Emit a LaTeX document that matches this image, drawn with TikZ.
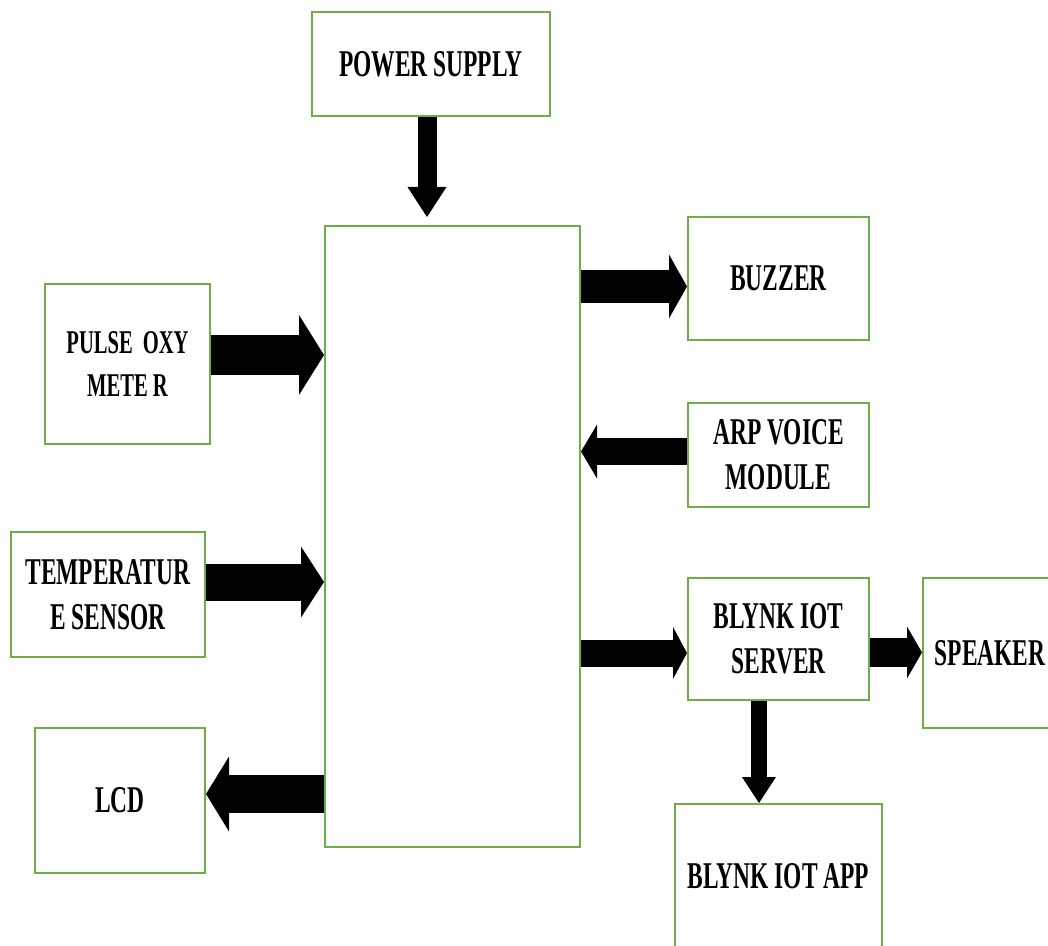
\documentclass[tikz,border=0pt]{standalone}
\usepackage{fontspec}
\setmainfont{Liberation Serif}[FakeStretch=0.62]
\usetikzlibrary{arrows.meta}
\definecolor{boxgreen}{HTML}{70AD47}
\tikzset{
  box/.style={draw=boxgreen, line width=1pt, fill=white, align=center, inner sep=2pt,
    font=\fontsize{18.9}{22.5}\selectfont\bfseries},
  blk/.style n args={3}{draw=black, line width=#1*0.5pt,
    -{Triangle[length=#3*0.5pt, width=#2*0.5pt, line width=0pt]}}
}
\begin{document}
\begin{tikzpicture}[x=0.5pt, y=-0.5pt]
\useasboundingbox (0,0) rectangle (1048,946);
% boxes
\node[box, minimum width=119pt, minimum height=52pt] (ps) at (431,64) {POWER SUPPLY};
\node[box, minimum width=127.5pt, minimum height=310.5pt] (mcu) at (452.5,536.5) {};
\node[box, minimum width=82.5pt, minimum height=80pt, font=\fontsize{16.6}{21.5}\selectfont\bfseries] (pulse) at (127.5,364) {PULSE\hspace{5pt}OXY\\METE R};
\node[box, minimum width=97pt, minimum height=62.5pt] (temp) at (108,594.5) {TEMPERATUR\\E SENSOR};
\node[box, minimum width=85pt, minimum height=72.5pt] (lcd) at (120,800.5) {LCD};
\node[box, minimum width=90.5pt, minimum height=61.5pt] (buz) at (778.5,278.5) {BUZZER};
\node[box, minimum width=90.5pt, minimum height=52pt] (arp) at (778.5,455) {ARP VOICE\\MODULE};
\node[box, minimum width=90.5pt, minimum height=61pt] (srv) at (778.5,639) {BLYNK IOT\\SERVER};
\node[box, minimum width=67pt, minimum height=75pt] (spk) at (990,653) {SPEAKER};
\node[box, minimum width=103.5pt, minimum height=72pt] (app) at (778.5,876) {BLYNK IOT APP};
% connector guide coordinates
\coordinate (a1) at (427,0);
\coordinate (a2) at (0,355);
\coordinate (a3) at (0,582);
\coordinate (a4) at (0,794);
\coordinate (a5) at (0,286.5);
\coordinate (a6) at (0,451.5);
\coordinate (a7) at (0,653);
\coordinate (a8) at (0,652.5);
\coordinate (a9) at (759,0);
% block arrows
\draw[blk={19}{39}{30}, shorten >=4pt] (ps.south -| a1) -- (mcu.north -| a1);
\draw[blk={40}{80}{25}] (pulse.east |- a2) -- (mcu.west |- a2);
\draw[blk={37}{71}{23}] (temp.east |- a3) -- (mcu.west |- a3);
\draw[blk={38}{75}{23}] (mcu.west |- a4) -- (lcd.east |- a4);
\draw[blk={33}{64}{18}] (mcu.east |- a5) -- (buz.west |- a5);
\draw[blk={27}{54}{16}] (arp.west |- a6) -- (mcu.east |- a6);
\draw[blk={27}{52}{14}] (mcu.east |- a7) -- (srv.west |- a7);
\draw[blk={29}{52}{15}] (srv.east |- a8) -- (spk.west |- a8);
\draw[blk={16}{34}{26}] (srv.south -| a9) -- (app.north -| a9);
\end{tikzpicture}
\end{document}
